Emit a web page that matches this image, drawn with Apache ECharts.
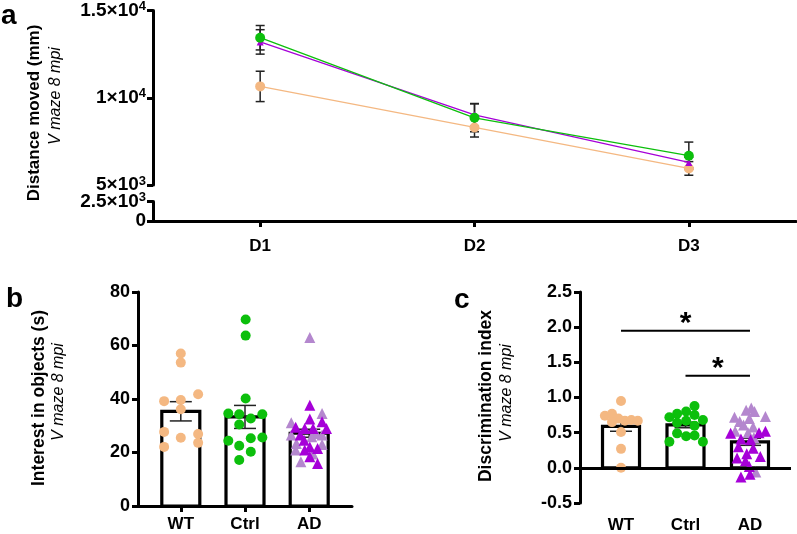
<!DOCTYPE html>
<html><head><meta charset="utf-8">
<script src="https://cdn.jsdelivr.net/npm/echarts@6/dist/echarts.min.js"></script>
<style>html,body{margin:0;padding:0;background:#fff}#c{width:797px;height:534px}</style>
</head><body><div id="c"></div>
<script>
// ---------- Panel a data ----------
const days = ['D1', 'D2', 'D3'];
const wtDist = [10650, 8300, 5950];
const wtDistErr = [870, 550, 390];
const ctrlDist = [13440, 8850, 6680];
const ctrlDistErr = [700, 800, 780];
const adDist = [13200, 9020, 6290];
const adDistErr = [700, 650, 300];
const upperTickValues = [5000, 10000, 15000];
const upperTickBase = ['5×10', '1×10', '1.5×10'];
const upperTickExp = ['3', '4', '4'];
const lowerTickValues = [0, 2500];
const lowerTickBase = ['0', '2.5×10'];
const lowerTickExp = ['', '3'];

// ---------- Panel b data ----------
const groups = ['WT', 'Ctrl', 'AD'];
const interestMean = [35.4, 33.3, 27.2];
const interestSem = [3.6, 4.3, 1.5];
const interestWT = [[1.0,57.0],[1.0,53.6],[1.27,41.8],[0.74,39.2],[1.0,39.6],[1.0,36.2],[0.74,27.7],[1.0,25.5],[1.27,26.9],[0.74,22.1],[1.27,23.6]];
const interestCtrl = [[2.01,69.7],[2.01,63.7],[2.01,40.2],[1.74,34.6],[1.91,34.3],[2.27,34.3],[2.09,32.7],[1.91,30.5],[1.74,24.4],[2.09,25.3],[2.27,25.6],[1.91,22.5],[2.09,20.3],[1.91,17.2]];
const interestADlight = [[3.01,63.0],[3.20,34.6],[2.72,31.1],[2.72,26.5],[3.11,27.1],[3.20,26.5],[3.04,25.9],[2.80,23.4],[3.20,23.0],[2.79,20.9],[3.06,19.4],[2.87,16.5]];
const interestADdark = [[3.01,37.7],[3.01,32.5],[2.79,29.4],[3.20,31.5],[2.93,29.0],[3.06,29.0],[3.27,29.0],[2.86,26.5],[2.92,24.6],[3.01,22.1],[3.13,21.5],[2.93,20.9],[3.01,18.4],[3.13,15.9]];

// ---------- Panel c data ----------
const discMean = [0.59, 0.61, 0.37];
const discSem = [0.07, 0.04, 0.05];
const discWT = [[1.0,0.95],[0.75,0.74],[0.86,0.77],[0.96,0.70],[0.86,0.65],[1.06,0.67],[1.16,0.68],[1.26,0.67],[1.0,0.51],[1.0,0.27],[1.0,0.0]];
const discCtrl = [[2.14,0.88],[1.87,0.77],[2.01,0.80],[1.75,0.72],[2.14,0.75],[2.27,0.68],[1.87,0.64],[2.01,0.67],[2.14,0.60],[1.87,0.49],[2.01,0.45],[2.14,0.46],[1.75,0.37],[2.27,0.37]];
const discADlight = [[3.02,0.85],[2.94,0.82],[3.07,0.80],[2.76,0.72],[3.24,0.73],[2.99,0.70],[2.84,0.66],[2.90,0.61],[3.05,0.58],[2.77,0.52],[2.97,0.50],[3.06,0.43],[3.09,-0.06]];
const discADdark = [[2.70,0.49],[3.24,0.52],[3.14,0.50],[2.86,0.41],[3.01,0.40],[2.82,0.30],[3.05,0.28],[2.95,0.20],[3.16,0.16],[2.80,0.14],[2.93,0.10],[2.99,0.02],[2.86,-0.13],[3.00,-0.09]];
const sigLines = [[1, 3, 1.95], [2, 3, 1.31]];
const sigLabels = ['*', '*'];

// ---------- styles ----------
const FONT = 'Liberation Sans, Arial, sans-serif';
const ORANGE = '#F4B882', GREEN = '#0CBF0C', PURPLE = '#A600D8', LILAC = '#B487CE';
const axisLine = {show: true, lineStyle: {color: '#000', width: 3}};
const axisTick = {show: true, inside: false, length: 6, lineStyle: {color: '#000', width: 3}};
const lab = {color: '#000', fontFamily: FONT, fontWeight: 'bold', fontSize: 18};
const catLab = {color: '#000', fontFamily: FONT, fontWeight: 'bold', fontSize: 17};
const supRich = {
  n: {color: '#000', fontFamily: FONT, fontWeight: 'bold', fontSize: 19, lineHeight: 21},
  s: {color: '#000', fontFamily: FONT, fontWeight: 'bold', fontSize: 13, lineHeight: 13, verticalAlign: 'top'}
};
function supLabel(values, base, exp) {
  return function (v) {
    const i = values.indexOf(v);
    if (i < 0) return '';
    return '{n|' + base[i] + '}' + (exp[i] ? '{s|' + exp[i] + '}' : '');
  };
}

function errorBar(capHalf) {
  return function (params, api) {
    const x = api.value(0), m = api.value(1), e = api.value(2);
    const t = api.coord([x, m + e]), b = api.coord([x, m - e]);
    const st = {stroke: '#222', lineWidth: 1.5};
    return {type: 'group', children: [
      {type: 'line', shape: {x1: t[0], y1: t[1], x2: b[0], y2: b[1]}, style: st},
      {type: 'line', shape: {x1: t[0] - capHalf, y1: t[1], x2: t[0] + capHalf, y2: t[1]}, style: st},
      {type: 'line', shape: {x1: b[0] - capHalf, y1: b[1], x2: b[0] + capHalf, y2: b[1]}, style: st}
    ]};
  };
}
function barShape(w) {
  return function (params, api) {
    const x = api.value(0), v = api.value(1);
    const p0 = api.coord([x, 0]), p1 = api.coord([x, v]);
    return {type: 'rect', shape: {x: p0[0] - w / 2, y: Math.min(p0[1], p1[1]), width: w, height: Math.abs(p0[1] - p1[1])},
      style: {fill: '#fff', stroke: '#000', lineWidth: 3.2}};
  };
}
const errData = (m, e) => m.map((v, i) => [i, v, e[i]]);
const errDataG = (m, e) => m.map((v, i) => [i + 1, v, e[i]]);
const barData = m => m.map((v, i) => [i + 1, v]);

const option = {
  animation: false,
  grid: [
    {left: 153, top: 6, width: 643, height: 179},
    {left: 153, top: 201.5, width: 643, height: 19.5},
    {left: 138, top: 292, width: 214, height: 214},
    {left: 580, top: 292, width: 211, height: 212}
  ],
  xAxis: [
    {gridIndex: 0, type: 'category', data: days, boundaryGap: true, show: false},
    {gridIndex: 1, type: 'category', data: days, boundaryGap: true, axisLine, axisTick: Object.assign({alignWithLabel: true}, axisTick),
      axisLabel: Object.assign({margin: 17}, catLab)},
    {gridIndex: 2, type: 'value', min: 1 / 3, max: 11 / 3, splitLine: {show: false}, axisLine,
      axisTick: Object.assign({customValues: [1, 2, 3]}, axisTick),
      axisLabel: Object.assign({customValues: [1, 2, 3], margin: 10, formatter: v => groups[Math.round(v) - 1]}, catLab)},
    {gridIndex: 3, type: 'value', min: 0.364, max: 3.636, splitLine: {show: false}, axisLine: {show: false, onZero: false},
      axisTick: {show: false},
      axisLabel: Object.assign({customValues: [1, 2, 3], margin: 14, formatter: v => groups[Math.round(v) - 1]}, catLab)}
  ],
  yAxis: [
    {gridIndex: 0, type: 'value', min: 5000, max: 15000, interval: 5000, splitLine: {show: false}, axisLine, axisTick,
      axisLabel: {margin: 7, formatter: supLabel(upperTickValues, upperTickBase, upperTickExp), rich: supRich}},
    {gridIndex: 1, type: 'value', min: 0, max: 2500, interval: 2500, splitLine: {show: false}, axisLine, axisTick,
      axisLabel: {margin: 7, formatter: supLabel(lowerTickValues, lowerTickBase, lowerTickExp), rich: supRich}},
    {gridIndex: 2, type: 'value', min: 0, max: 80, interval: 20, splitLine: {show: false}, axisLine, axisTick,
      axisLabel: Object.assign({margin: 8}, lab)},
    {gridIndex: 3, type: 'value', min: -0.5, max: 2.5, interval: 0.5, splitLine: {show: false}, axisLine, axisTick,
      axisLabel: Object.assign({margin: 8, formatter: v => v.toFixed(1)}, lab)}
  ],
  series: [
    // Panel a
    {type: 'custom', xAxisIndex: 0, yAxisIndex: 0, renderItem: errorBar(4.5), data: errData(wtDist, wtDistErr), encode: {x: 0, y: 1}, z: 1},
    {type: 'custom', xAxisIndex: 0, yAxisIndex: 0, renderItem: errorBar(4.5), data: errData(ctrlDist, ctrlDistErr), encode: {x: 0, y: 1}, z: 1},
    {type: 'custom', xAxisIndex: 0, yAxisIndex: 0, renderItem: errorBar(4.5), data: errData(adDist, adDistErr), encode: {x: 0, y: 1}, z: 1},
    {type: 'line', xAxisIndex: 0, yAxisIndex: 0, data: wtDist, symbol: 'circle', symbolSize: 10, lineStyle: {color: ORANGE, width: 1.3}, itemStyle: {color: ORANGE}, z: 3},
    {type: 'line', xAxisIndex: 0, yAxisIndex: 0, data: adDist, symbol: 'triangle', symbolSize: 7, lineStyle: {color: PURPLE, width: 1.3}, itemStyle: {color: PURPLE}, z: 3},
    {type: 'line', xAxisIndex: 0, yAxisIndex: 0, data: ctrlDist, symbol: 'circle', symbolSize: 10, lineStyle: {color: GREEN, width: 1.3}, itemStyle: {color: GREEN}, z: 3},
    // Panel b
    {type: 'custom', xAxisIndex: 2, yAxisIndex: 2, renderItem: barShape(38), data: barData(interestMean), encode: {x: 0, y: 1}, z: 1},
    {type: 'custom', xAxisIndex: 2, yAxisIndex: 2, renderItem: errorBar(11), data: errDataG(interestMean, interestSem), encode: {x: 0, y: 1}, z: 2},
    {type: 'scatter', xAxisIndex: 2, yAxisIndex: 2, data: interestWT, symbol: 'circle', symbolSize: 10, itemStyle: {color: ORANGE, opacity: 1}, z: 3},
    {type: 'scatter', xAxisIndex: 2, yAxisIndex: 2, data: interestCtrl, symbol: 'circle', symbolSize: 10, itemStyle: {color: GREEN, opacity: 1}, z: 3},
    {type: 'scatter', xAxisIndex: 2, yAxisIndex: 2, data: interestADlight, symbol: 'triangle', symbolSize: 11, itemStyle: {color: LILAC, opacity: 1}, z: 3},
    {type: 'scatter', xAxisIndex: 2, yAxisIndex: 2, data: interestADdark, symbol: 'triangle', symbolSize: 11, itemStyle: {color: PURPLE, opacity: 1}, z: 4},
    // Panel c
    {type: 'custom', xAxisIndex: 3, yAxisIndex: 3, renderItem: barShape(37), data: barData(discMean), encode: {x: 0, y: 1}, z: 1,
      markLine: {silent: true, symbol: 'none', label: {show: false}, lineStyle: {color: '#000', width: 3, type: 'solid'}, data: [{yAxis: 0}], z: 5}},
    {type: 'custom', xAxisIndex: 3, yAxisIndex: 3, renderItem: errorBar(11), data: errDataG(discMean, discSem), encode: {x: 0, y: 1}, z: 2},
    {type: 'scatter', xAxisIndex: 3, yAxisIndex: 3, data: discWT, symbol: 'circle', symbolSize: 10, itemStyle: {color: ORANGE, opacity: 1}, z: 3},
    {type: 'scatter', xAxisIndex: 3, yAxisIndex: 3, data: discCtrl, symbol: 'circle', symbolSize: 10, itemStyle: {color: GREEN, opacity: 1}, z: 3},
    {type: 'scatter', xAxisIndex: 3, yAxisIndex: 3, data: discADlight, symbol: 'triangle', symbolSize: 11, itemStyle: {color: LILAC, opacity: 1}, z: 3},
    {type: 'scatter', xAxisIndex: 3, yAxisIndex: 3, data: discADdark, symbol: 'triangle', symbolSize: 11, itemStyle: {color: PURPLE, opacity: 1}, z: 4},
    {type: 'custom', xAxisIndex: 3, yAxisIndex: 3, data: sigLines, encode: {x: [0, 1], y: 2}, z: 6,
      renderItem: function (params, api) {
        const a = api.coord([api.value(0), api.value(2)]), b = api.coord([api.value(1), api.value(2)]);
        return {type: 'group', children: [
          {type: 'line', shape: {x1: a[0], y1: a[1], x2: b[0], y2: b[1]}, style: {stroke: '#000', lineWidth: 2}},
          {type: 'text', style: {text: sigLabels[params.dataIndex], x: (a[0] + b[0]) / 2, y: a[1] - 7, textAlign: 'center', textVerticalAlign: 'middle',
            font: 'bold 30px ' + FONT, fill: '#000'}}
        ]};
      }}
  ],
  graphic: [
    {type: 'text', left: 1, top: 2, style: {text: 'a', font: 'bold 28px ' + FONT, fill: '#000'}},
    {type: 'text', left: 6, top: 285, style: {text: 'b', font: 'bold 28px ' + FONT, fill: '#000'}},
    {type: 'text', left: 454, top: 286, style: {text: 'c', font: 'bold 28px ' + FONT, fill: '#000'}},
    {type: 'text', x: 34, y: 113, rotation: Math.PI / 2, style: {text: 'Distance moved (mm)', font: 'bold 17px ' + FONT, fill: '#000', textAlign: 'center', textVerticalAlign: 'middle'}},
    {type: 'text', x: 56, y: 96, rotation: Math.PI / 2, style: {text: 'V maze 8 mpi', font: 'italic 16px ' + FONT, fill: '#000', textAlign: 'center', textVerticalAlign: 'middle'}},
    {type: 'text', x: 39, y: 398, rotation: Math.PI / 2, style: {text: 'Interest in objects (s)', font: 'bold 17.5px ' + FONT, fill: '#000', textAlign: 'center', textVerticalAlign: 'middle'}},
    {type: 'text', x: 59, y: 392, rotation: Math.PI / 2, style: {text: 'V maze 8 mpi', font: 'italic 16px ' + FONT, fill: '#000', textAlign: 'center', textVerticalAlign: 'middle'}},
    {type: 'text', x: 486, y: 396, rotation: Math.PI / 2, style: {text: 'Discrimination index', font: 'bold 17.5px ' + FONT, fill: '#000', textAlign: 'center', textVerticalAlign: 'middle'}},
    {type: 'text', x: 507, y: 393, rotation: Math.PI / 2, style: {text: 'V maze 8 mpi', font: 'italic 16px ' + FONT, fill: '#000', textAlign: 'center', textVerticalAlign: 'middle'}}
  ]
};
const chart = echarts.init(document.getElementById('c'));
chart.setOption(option);
</script></body></html>
